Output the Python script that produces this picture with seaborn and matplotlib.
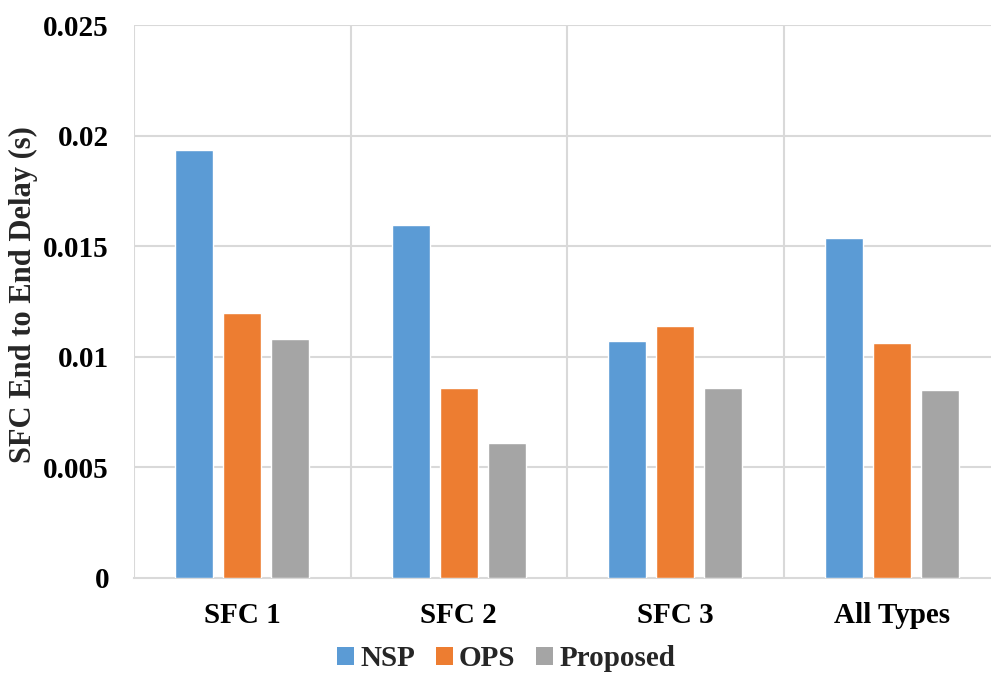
import numpy as np
import pandas as pd
import matplotlib
matplotlib.use("Agg")
import matplotlib.pyplot as plt
import seaborn as sns
from matplotlib.patches import Patch

categories = ["SFC 1", "SFC 2", "SFC 3", "All Types"]
series = ["NSP", "OPS", "Proposed"]
nsp = [0.01935, 0.01596, 0.01073, 0.01537]
ops = [0.01199, 0.00860, 0.01140, 0.01062]
proposed = [0.01081, 0.00612, 0.00859, 0.00851]
colors = ["#5B9BD5", "#ED7D31", "#A5A5A5"]
yticks = [0, 0.005, 0.01, 0.015, 0.02, 0.025]
ytick_labels = ["0", "0.005", "0.01", "0.015", "0.02", "0.025"]

rows = []
for name, vals in zip(series, [nsp, ops, proposed]):
    for cat, v in zip(categories, vals):
        rows.append({"SFC": cat, "Scheme": name, "Delay": v})
df = pd.DataFrame(rows)

sns.set_theme(style="white")
plt.rcParams["font.family"] = ["Liberation Serif", "DejaVu Serif"]
plt.rcParams["font.weight"] = "bold"

fig = plt.figure(figsize=(9.91, 6.75), dpi=100)
ax = fig.add_axes([134 / 991, 1 - 578 / 675, 866 / 991, 553 / 675])

sns.barplot(data=df, x="SFC", y="Delay", hue="Scheme", order=categories,
            hue_order=series, palette=colors, width=0.665, gap=0.21,
            saturation=1, errorbar=None, legend=False, ax=ax, zorder=3)

ax.set_xlim(-0.5, 3.5)
ax.set_ylim(0, 0.025)
ax.set_yticks(yticks)
ax.set_yticklabels(ytick_labels, fontsize=21, fontweight="bold")
ax.set_xticks(range(len(categories)))
ax.set_xticklabels(categories, fontsize=21, fontweight="bold")
ax.tick_params(axis="both", length=0, colors="black")
ax.tick_params(axis="y", pad=18)
ax.tick_params(axis="x", pad=17)

grid_color = "#D9D9D9"
for y in yticks[1:]:
    ax.axhline(y, color=grid_color, lw=1.5, zorder=1)
for x in np.arange(-0.5, 4, 1.0):
    ax.axvline(x, color=grid_color, lw=1.5, zorder=1)
for s in ["top", "right", "left"]:
    ax.spines[s].set_visible(False)
ax.spines["bottom"].set_color(grid_color)
ax.spines["bottom"].set_linewidth(1.5)

ax.set_xlabel("")
ax.set_ylabel("SFC End to End Delay (s)", fontsize=22, fontweight="bold")
ax.yaxis.set_label_coords(-0.111, 0.513)

handles = [Patch(facecolor=c, edgecolor="none", label=n) for c, n in zip(colors, series)]
fig.legend(handles=handles, loc="center", bbox_to_anchor=(506 / 991, 1 - 659 / 675),
           ncol=3, frameon=False, handlelength=0.6, handleheight=0.6,
           handletextpad=0.2, columnspacing=0.7, prop={"weight": "bold", "size": 21})

fig.savefig("out.png", dpi=100)
